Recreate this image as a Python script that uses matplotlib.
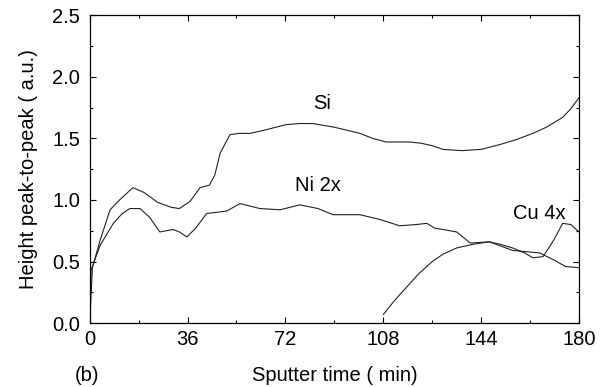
import matplotlib
matplotlib.use("Agg")
import matplotlib.pyplot as plt
from matplotlib.ticker import MultipleLocator

plt.rcParams['font.family'] = ['Liberation Sans', 'DejaVu Sans']

# Si curve
si_t = [0, 1, 3.8, 7.5, 11, 15.9, 20, 25, 30, 33, 37, 40.6, 44, 46, 48, 51.6, 55, 59, 65, 72, 77, 82,
        90, 99.4, 104, 109, 113, 117.8, 122, 126, 130, 137, 144, 151, 157, 163, 168, 174, 177, 180]
si_v = [0.0, 0.45, 0.67, 0.92, 1.0, 1.10, 1.06, 0.98, 0.94, 0.93, 0.99, 1.10, 1.12, 1.20, 1.38, 1.53, 1.54, 1.54, 1.57, 1.61, 1.62, 1.62,
        1.59, 1.54, 1.50, 1.47, 1.47, 1.47, 1.46, 1.44, 1.41, 1.40, 1.41, 1.45, 1.49, 1.54, 1.59, 1.67, 1.74, 1.83]

# Ni (x2)
ni_t = [0, 0.5, 3.8, 8.7, 12, 14.8, 18.5, 22, 25.8, 30.7, 33, 35.7, 39, 43, 47, 50.4, 55.3, 59, 62.6, 70, 77.3,
        84, 89.5, 99.4, 107, 114, 120, 124, 127, 130, 135, 140, 147, 155.6, 165.5, 171, 175, 180]
ni_v = [0.0, 0.43, 0.63, 0.81, 0.89, 0.93, 0.93, 0.86, 0.74, 0.76, 0.74, 0.70, 0.77, 0.89, 0.90, 0.91, 0.97, 0.95, 0.93, 0.92, 0.96,
        0.93, 0.88, 0.88, 0.84, 0.79, 0.80, 0.81, 0.77, 0.76, 0.74, 0.65, 0.66, 0.59, 0.57, 0.51, 0.46, 0.45]

# Cu (x4)
cu_t = [108, 112, 116.5, 121, 126, 130, 135, 141, 147, 151, 155.6, 160, 163, 166.8, 170.6, 174, 177, 180]
cu_v = [0.07, 0.18, 0.29, 0.40, 0.50, 0.56, 0.61, 0.64, 0.66, 0.64, 0.61, 0.57, 0.53, 0.54, 0.67, 0.81, 0.80, 0.74]

fs = 14.5

fig = plt.figure(figsize=(6.0, 3.87), dpi=100)
ax = fig.add_axes([0.1495, 0.165, 0.8155, 0.796])

lc = '#222222'
ax.plot(si_t, si_v, color=lc, lw=0.8)
ax.plot(ni_t, ni_v, color=lc, lw=0.8)
ax.plot(cu_t, cu_v, color=lc, lw=0.8)

ax.text(85.6, 1.78, 'Si', fontsize=fs, ha='center', va='center')
ax.text(84, 1.12, 'Ni 2x', fontsize=fs, ha='center', va='center')
ax.text(165.5, 0.89, 'Cu 4x', fontsize=fs, ha='center', va='center')

ax.set_xlim(0, 180)
ax.set_ylim(0, 2.5)
ax.xaxis.set_major_locator(MultipleLocator(36))
ax.xaxis.set_minor_locator(MultipleLocator(18))
ax.yaxis.set_major_locator(MultipleLocator(0.5))
ax.yaxis.set_minor_locator(MultipleLocator(0.25))
ax.yaxis.set_major_formatter(plt.FormatStrFormatter('%.1f'))
ax.tick_params(which='both', direction='in', top=True, right=True, labelsize=fs, width=0.8)
ax.tick_params(which='major', length=4)
ax.tick_params(which='minor', length=2.5)
ax.tick_params(axis='x', pad=5)
ax.tick_params(axis='y', pad=7)
for s in ax.spines.values():
    s.set_linewidth(0.9)

ax.set_xlabel('Sputter time ( min)', fontsize=fs, labelpad=12)
ax.set_ylabel('Height peak-to-peak ( a.u.)', fontsize=fs, labelpad=10)
fig.text(0.145, 0.031, '(b)', fontsize=fs, ha='center', va='center')

fig.savefig('out.png', dpi=100)
